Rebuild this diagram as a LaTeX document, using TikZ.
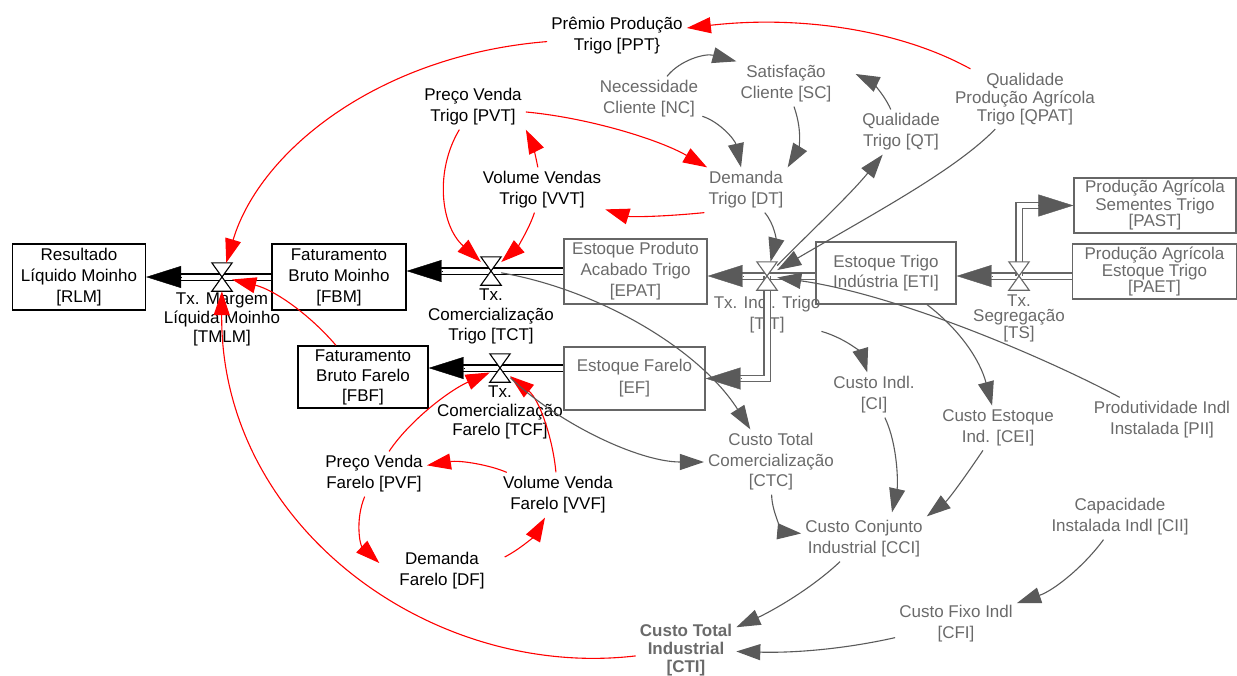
\documentclass[tikz,border=0pt]{standalone}
\usepackage{fontspec}
\setmainfont{Liberation Sans}
\usetikzlibrary{arrows.meta,calc,positioning}
\definecolor{boxgray}{HTML}{666666}
\definecolor{txtgray}{HTML}{6A6A6A}
\definecolor{linkgray}{HTML}{5A5A5A}
\definecolor{linkred}{HTML}{FF0000}
\tikzset{every node/.style={font=\fontsize{17}{21}\selectfont},
  lh/.style={font=\fontsize{17}{#1}\selectfont},
  stock/.style={draw,line width=1.3pt,align=center,inner sep=0pt},
  gstock/.style={stock,draw=boxgray,text=txtgray},
  aux/.style={align=center,inner sep=4pt},
  gaux/.style={aux,text=txtgray},
  valvebox/.style={minimum width=20pt,minimum height=28pt,inner sep=0pt},
  flowlbl/.style={align=center,inner sep=1pt,lh=20},
  pipe/.style={draw=black,double=white,double distance=5pt,line width=1.3pt},
  gpipe/.style={pipe,draw=boxgray},
  pipetip/.style={-{Triangle[length=35pt,width=22pt]},line width=.4pt},
  link/.style={draw=linkred,line width=1.1pt,-{Triangle[length=24pt,width=16pt]}},
  glink/.style={link,draw=linkgray}}

\begin{document}
\begin{tikzpicture}[x=1pt,y=-1pt]
\useasboundingbox (0,0) rectangle (1237,675);
% stocks
\node[stock,minimum width=133pt,minimum height=66pt] (RLM) at (79,277) {Resultado\\Líquido Moinho\\{[RLM]}};
\node[stock,minimum width=134pt,minimum height=66pt] (FBM) at (339,277) {Faturamento\\Bruto Moinho\\{[FBM]}};
\node[stock,lh=20,minimum width=130pt,minimum height=62pt] (FBF) at (363,377) {Faturamento\\Bruto Farelo\\{[FBF]}};
\node[gstock,minimum width=143pt,minimum height=65pt] (EPAT) at (635.5,271.5) {Estoque Produto\\Acabado Trigo\\{[EPAT]}};
\node[gstock,lh=22,minimum width=141pt,minimum height=63pt] (EF) at (634.5,378.5) {Estoque Farelo\\{[EF]}};
\node[gstock,lh=20,minimum width=140pt,minimum height=62pt] (ETI) at (886,273) {Estoque Trigo\\Indústria [ETI]};
\node[gstock,lh=17,minimum width=162pt,minimum height=55pt] (PAST) at (1155,205.5) {Produção Agrícola\\Sementes Trigo\\{[PAST]}};
\node[gstock,lh=16.5,minimum width=164pt,minimum height=55pt] (PAET) at (1154.5,271.5) {Produção Agrícola\\Estoque Trigo\\{[PAET]}};
% valves and their labels
\node[valvebox] (TMLM) at (222,277) {};
\node[valvebox] (TCT) at (491,271) {};
\node[valvebox] (TCF) at (500,368) {};
\node[valvebox] (TIT) at (767,276) {};
\node[valvebox] (TS) at (1019,276) {};
\node[flowlbl,lh=19,below=0pt of TMLM] (TMLMlbl) {Tx. Margem\\Líquida Moinho\\{[TMLM]}};
\node[flowlbl,below=2pt of TCT] (TCTlbl) {Tx.\\Comercialização\\Trigo [TCT]};
\node[flowlbl,lh=19,below=2pt of TCF] (TCFlbl) {Tx.\\Comercialização\\Farelo [TCF]};
\node[flowlbl,lh=21,text=txtgray,below=5pt of TIT] (TITlbl) {Tx. Indl. Trigo\\{[TIT]}};
\node[flowlbl,lh=15,text=txtgray,below=3pt of TS] (TSlbl) {Tx.\\Segregação\\{[TS]}};
% auxiliaries
\node[aux] (PPT) at (617,36) {Prêmio Produção\\Trigo [PPT\}};
\node[aux] (PVT) at (473,107) {Preço Venda\\Trigo [PVT]};
\node[aux] (VVT) at (542,190) {Volume Vendas\\Trigo [VVT]};
\node[gaux] (NC) at (649,99) {Necessidade\\Cliente [NC]};
\node[gaux] (SC) at (786,84) {Satisfação\\Cliente [SC]};
\node[gaux] (DT) at (746,190) {Demanda\\Trigo [DT]};
\node[gaux] (QT) at (901,132) {Qualidade\\Trigo [QT]};
\node[gaux,lh=18] (QPAT) at (1025,99) {Qualidade\\Produção Agrícola\\Trigo [QPAT]};
\node[gaux] (CI) at (874,395) {Custo Indl.\\{[CI]}};
\node[gaux] (CEI) at (998,428) {Custo Estoque\\Ind. [CEI]};
\node[gaux] (PII) at (1162,420) {Produtividade Indl\\Instalada [PII]};
\node[gaux,lh=20.5] (CTC) at (771,462) {Custo Total\\Comercialização\\{[CTC]}};
\node[gaux] (CCI) at (864,539) {Custo Conjunto\\Industrial [CCI]};
\node[gaux] (CII) at (1120,517) {Capacidade\\Instalada Indl [CII]};
\node[gaux] (CFI) at (956,624) {Custo Fixo Indl\\{[CFI]}};
\node[gaux,font=\fontsize{17}{18}\selectfont\bfseries] (CTI) at (686,650) {Custo Total\\Industrial\\{[CTI]}};
\node[aux] (PVF) at (374,474) {Preço Venda\\Farelo [PVF]};
\node[aux] (VVF) at (558,495) {Volume Venda\\Farelo [VVF]};
\node[aux] (DF) at (442,571) {Demanda\\Farelo [DF]};
% flows
\draw[pipe] (FBM.west) -- ($(RLM.east)+(34,0)$);
\draw[pipetip] ($(RLM.east)+(35,0)$) -- (RLM.east);
\draw[pipe] (EPAT.west |- TCT) -- ($(FBM.east |- TCT)+(34,0)$);
\draw[pipetip] ($(FBM.east |- TCT)+(35,0)$) -- (FBM.east |- TCT);
\draw[pipe] (EF.west |- TCF) -- ($(FBF.east |- TCF)+(34,0)$);
\draw[pipetip] ($(FBF.east |- TCF)+(35,0)$) -- (FBF.east |- TCF);
\draw[gpipe] (ETI.west |- TIT) -- ($(EPAT.east |- TIT)+(34,0)$);
\draw[pipetip,linkgray] ($(EPAT.east |- TIT)+(35,0)$) -- (EPAT.east |- TIT);
\draw[gpipe] (TIT.center) -- (TIT |- EF.east) -- ($(EF.east)+(34,0)$);
\draw[pipetip,linkgray] ($(EF.east)+(35,0)$) -- (EF.east);
\draw[gpipe] (PAET.west |- TS) -- ($(ETI.east |- TS)+(34,0)$);
\draw[pipetip,linkgray] ($(ETI.east |- TS)+(35,0)$) -- (ETI.east |- TS);
\draw[gpipe] (TS.center) -- (TS |- PAST.west) -- ($(PAST.west)+(-34,0)$);
\draw[pipetip,linkgray] ($(PAST.west)+(-35,0)$) -- (PAST.west);
\foreach \v/\c in {TMLM/black,TCT/black,TCF/black,TIT/boxgray,TS/boxgray}
  \filldraw[fill=white,draw=\c,line width=1.1pt] (\v.north west) -- (\v.north east)
    -- (\v.south west) -- (\v.south east) -- cycle;
% red links
\draw[link] (QPAT) .. controls (900,30) and (800,15) .. (PPT);
\draw[link] (PPT) .. controls (380,55) and (260,150) .. (TMLM);
\draw[link] (PVT) .. controls (590,118) and (660,140) .. (DT);
\draw[link] (PVT) .. controls (435,170) and (440,225) .. (TCT);
\draw[link] (VVT) .. controls (535,152) and (531,140) .. (PVT.south east);
\draw[link] (VVT) .. controls (528,232) and (515,250) .. (TCT);
\draw[link] (DT.south west) .. controls (660,217) and (630,217) .. (VVT);
\draw[link] (FBF) .. controls (310,315) and (275,290) .. (TMLM);
\draw[link] (CTI) .. controls (430,680) and (220,525) .. (TMLM);
\draw[link] (PVF) .. controls (410,420) and (450,390) .. (TCF);
\draw[link] (VVF) .. controls (553,440) and (540,400) .. (TCF);
\draw[link] (VVF) .. controls (490,465) and (460,460) .. (PVF);
\draw[link] (PVF) .. controls (355,520) and (360,545) .. ([xshift=-16pt,yshift=8pt]DF.west);
\draw[link] ([xshift=16pt,yshift=14pt]DF.east) .. controls (522,548) and (535,535) .. (VVF);
% gray links
\draw[glink] (NC) .. controls (680,60) and (705,53) .. (SC.north west);
\draw[glink] (NC) .. controls (720,122) and (735,140) .. (DT);
\draw[glink] (SC) .. controls (804,135) and (797,152) .. (DT.north east);
\draw[glink] (QT) .. controls (882,90) and (868,80) .. ([xshift=20pt,yshift=10pt]SC.east);
\draw[glink] (TIT) .. controls (810,232) and (850,195) .. (QT);
\draw[glink] (QPAT) .. controls (955,170) and (880,210) .. (TIT);
\draw[glink] (DT) .. controls (775,225) and (776,240) .. (TIT);
\draw[glink] (PII) .. controls (1050,360) and (900,295) .. (TIT);
\draw[glink] (TCT) .. controls (600,290) and (700,350) .. (CTC);
\draw[glink] (TCF) .. controls (560,425) and (640,462) .. (CTC);
\draw[glink] (TITlbl) .. controls (850,340) and (862,355) .. (CI);
\draw[glink] (ETI) .. controls (960,330) and (980,360) .. (CEI);
\draw[glink] (CI) .. controls (898,445) and (898,485) .. ([xshift=28pt,yshift=4pt]CCI.north);
\draw[glink] (CEI) .. controls (963,480) and (948,500) .. (CCI.north east);
\draw[glink] (CTC) .. controls (772,515) and (785,532) .. (CCI);
\draw[glink] (CCI) .. controls (810,590) and (770,612) .. (CTI);
\draw[glink] (CII) .. controls (1085,565) and (1055,590) .. (CFI);
\draw[glink] (CFI) .. controls (840,650) and (790,653) .. (CTI);
\end{tikzpicture}
\end{document}
